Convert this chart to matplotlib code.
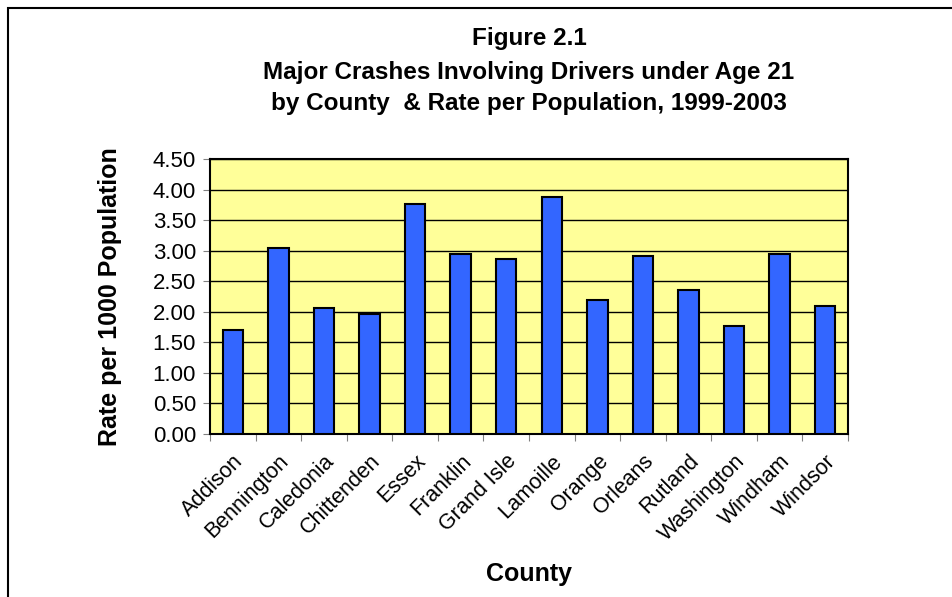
import matplotlib.pyplot as plt
import matplotlib.patches as patches
import matplotlib.transforms as mtransforms
import numpy as np

counties = ['Addison', 'Bennington', 'Caledonia', 'Chittenden', 'Essex', 'Franklin',
            'Grand Isle', 'Lamoille', 'Orange', 'Orleans', 'Rutland', 'Washington',
            'Windham', 'Windsor']
rates = [1.70, 3.05, 2.06, 1.96, 3.77, 2.95, 2.86, 3.88, 2.20, 2.92, 2.36, 1.77, 2.95, 2.10]
yticks = [0.0, 0.5, 1.0, 1.5, 2.0, 2.5, 3.0, 3.5, 4.0, 4.5]

plt.rcParams['font.family'] = ['Liberation Sans', 'DejaVu Sans']

fig = plt.figure(figsize=(9.52, 5.97), dpi=100)
# chart area border (only left and top visible in the crop)
fig.patches.append(patches.Rectangle((8/952, -0.1), 1.2, 1.1 - 8/597, transform=fig.transFigure,
                                     fill=False, edgecolor='black', linewidth=1.5))

ax = fig.add_axes([210/952, 1 - 434/597, 638/952, 275/597])
ax.set_facecolor('#FFFF99')
x = np.arange(len(counties))
ax.bar(x, rates, width=0.45, color='#3366FF', edgecolor='black', linewidth=1.5, zorder=3)
ax.set_xlim(-0.5, len(counties) - 0.5)
ax.set_ylim(0, 4.5)
ax.set_yticks(yticks)
ax.set_yticklabels(['%.2f' % v for v in yticks], fontsize=16)
ax.yaxis.grid(True, color='black', linewidth=1, zorder=0)
ax.set_xticks(np.arange(len(counties) + 1) - 0.5, minor=False)
ax.set_xticklabels([])
ax.set_xticks(x, minor=True)
ax.set_xticklabels(counties, minor=True, rotation=45, ha='right', rotation_mode='anchor', fontsize=15.5)
shift = mtransforms.ScaledTranslation(-7/100, 0, fig.dpi_scale_trans)
for lab in ax.get_xticklabels(minor=True):
    lab.set_transform(lab.get_transform() + shift)
ax.tick_params(axis='x', which='minor', length=0, pad=12)
ax.tick_params(axis='x', which='major', length=5, direction='out', color='gray')
ax.tick_params(axis='y', length=5, direction='out', color='gray', pad=5)
for s in ax.spines.values():
    s.set_linewidth(1.5)

ax.set_ylabel('Rate per 1000 Population', fontsize=18, fontweight='bold', labelpad=22)
ax.set_xlabel('County', fontsize=18, fontweight='bold', labelpad=12)

cx = 0.5 * (210 + 848) / 952
fig.text(cx, 1 - 39/597, 'Figure 2.1', ha='center', va='center',
         fontsize=17.5, fontweight='bold')
fig.text(cx, 1 - 72/597, 'Major Crashes Involving Drivers under Age 21',
         ha='center', va='center', fontsize=17.5, fontweight='bold')
fig.text(cx, 1 - 104/597, 'by County  & Rate per Population, 1999-2003',
         ha='center', va='center', fontsize=17.5, fontweight='bold')

fig.savefig('out.png', dpi=100)
